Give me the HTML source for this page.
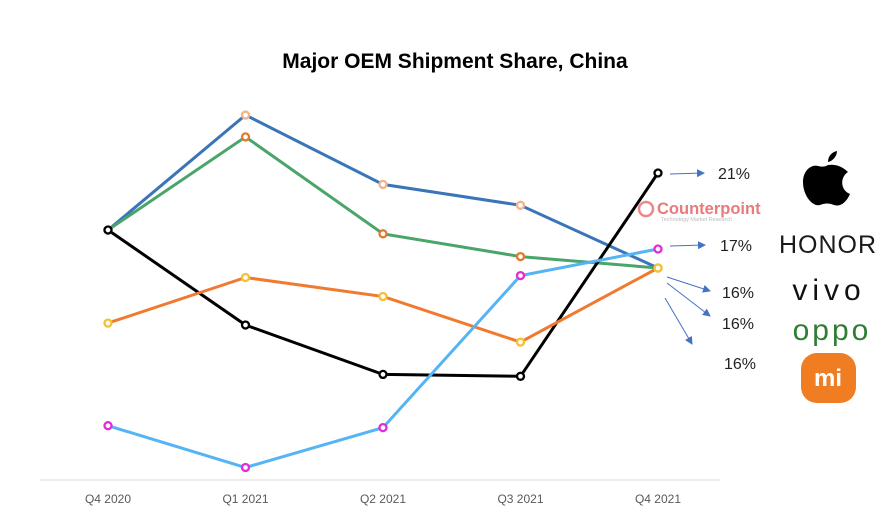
<!DOCTYPE html>
<html><head><meta charset="utf-8"><style>
body{margin:0;background:#fff;}
svg{display:block;font-family:"Liberation Sans",sans-serif;}
</style></head><body>
<svg id="c" width="883" height="516">
<defs><marker id="ah" markerWidth="8" markerHeight="8" refX="7" refY="4" orient="auto"><path d="M0,0 L8,4 L0,8 z" fill="#4472c4"/></marker></defs>
<text x="455" y="68" text-anchor="middle" font-size="21" font-weight="bold">Major OEM Shipment Share, China</text>
<line x1="40" y1="480" x2="720" y2="480" stroke="#d9d9d9"/>
<g id="xl"></g><g id="lines"></g><g id="marks"></g>
<g stroke="#4472c4" stroke-width="1" marker-end="url(#ah)">
<line x1="670" y1="174" x2="704" y2="173"/>
<line x1="670" y1="246" x2="705" y2="245"/>
<line x1="667" y1="277" x2="710" y2="291"/>
<line x1="667" y1="283" x2="710" y2="316"/>
<line x1="665" y1="298" x2="692" y2="344"/>
</g>
<g font-size="16" fill="#222">
<text x="718" y="179">21%</text><text x="720" y="251">17%</text>
<text x="722" y="298">16%</text><text x="722" y="329">16%</text><text x="724" y="369">16%</text>
</g>
<g>
<circle cx="646" cy="209" r="7" fill="none" stroke="#e88" stroke-width="2.5"/>
<text x="657" y="214" font-size="16.5" font-weight="bold" fill="#e87b7b">Counterpoint</text>
<text x="661" y="221" font-size="5.5" fill="#bbb">Technology Market Research</text>
</g>
<g>
<path d="M828 165 C840 163 848 172 848 172 C840 177 840 190 850 194 C846 203 840 207 834 205 C829 203 825 203 820 205 C812 207 803 195 803 182 C803 170 812 164 818 166 C822 167 825 167 828 165 Z M828 162 C828 156 832 152 837 151 C837 156 833 161 828 162Z" fill="#000"/>
<text x="828" y="253" text-anchor="middle" font-size="25" fill="#1a1a1a" letter-spacing="1">HONOR</text>
<text x="829" y="300" text-anchor="middle" font-size="30" fill="#111" letter-spacing="5">vivo</text>
<text x="832" y="340" text-anchor="middle" font-size="30" fill="#2e7d32" letter-spacing="3">oppo</text>
<rect x="801" y="353" width="55" height="50" rx="16" fill="#f07d22"/>
<text x="828" y="386" text-anchor="middle" font-size="24" font-weight="bold" fill="#fff">mi</text>
</g>
</svg>
<script>
const categories=["Q4 2020","Q1 2021","Q2 2021","Q3 2021","Q4 2021"];
const apple=[18.0,24.05,20.4,19.3,16.0];
const vivo=[18.0,22.9,17.8,16.6,16.0];
const honor=[18.0,13.0,10.4,10.3,21.0];
const oppo=[13.1,15.5,14.5,12.1,16.0];
const xiaomi=[7.7,5.5,7.6,15.6,17.0];
const series=[
 {n:"apple",d:apple,c:"#3a74b9",m:"#f0b48a"},
 {n:"vivo",d:vivo,c:"#4aa56b",m:"#e07a2e"},
 {n:"honor",d:honor,c:"#000",m:"#000"},
 {n:"oppo",d:oppo,c:"#f07a30",m:"#f5c032"},
 {n:"xiaomi",d:xiaomi,c:"#55b4f5",m:"#e62ad6"}];
const NS="http://www.w3.org/2000/svg";
const xs=i=>108+i*137.5;
const ys=v=>268-(v-16)*19;
const xl=document.getElementById("xl");
categories.forEach((c,i)=>{const t=document.createElementNS(NS,"text");
t.setAttribute("x",xs(i));t.setAttribute("y",503);t.setAttribute("text-anchor","middle");t.setAttribute("font-size","12");t.setAttribute("fill","#595959");t.textContent=c;


xl.appendChild(t);});
const L=document.getElementById("lines"),M=document.getElementById("marks");
series.forEach(s=>{const p=document.createElementNS(NS,"polyline");
p.setAttribute("points",s.d.map((v,i)=>xs(i)+","+ys(v)).join(" "));
p.setAttribute("fill","none");p.setAttribute("stroke",s.c);p.setAttribute("stroke-width","3");


L.appendChild(p);
s.d.forEach((v,i)=>{const c=document.createElementNS(NS,"circle");
c.setAttribute("cx",xs(i));c.setAttribute("cy",ys(v));c.setAttribute("r","3.5");c.setAttribute("fill","#fff");c.setAttribute("stroke",s.m);c.setAttribute("stroke-width","2.3");


M.appendChild(c);});});
</script>
</body></html>
